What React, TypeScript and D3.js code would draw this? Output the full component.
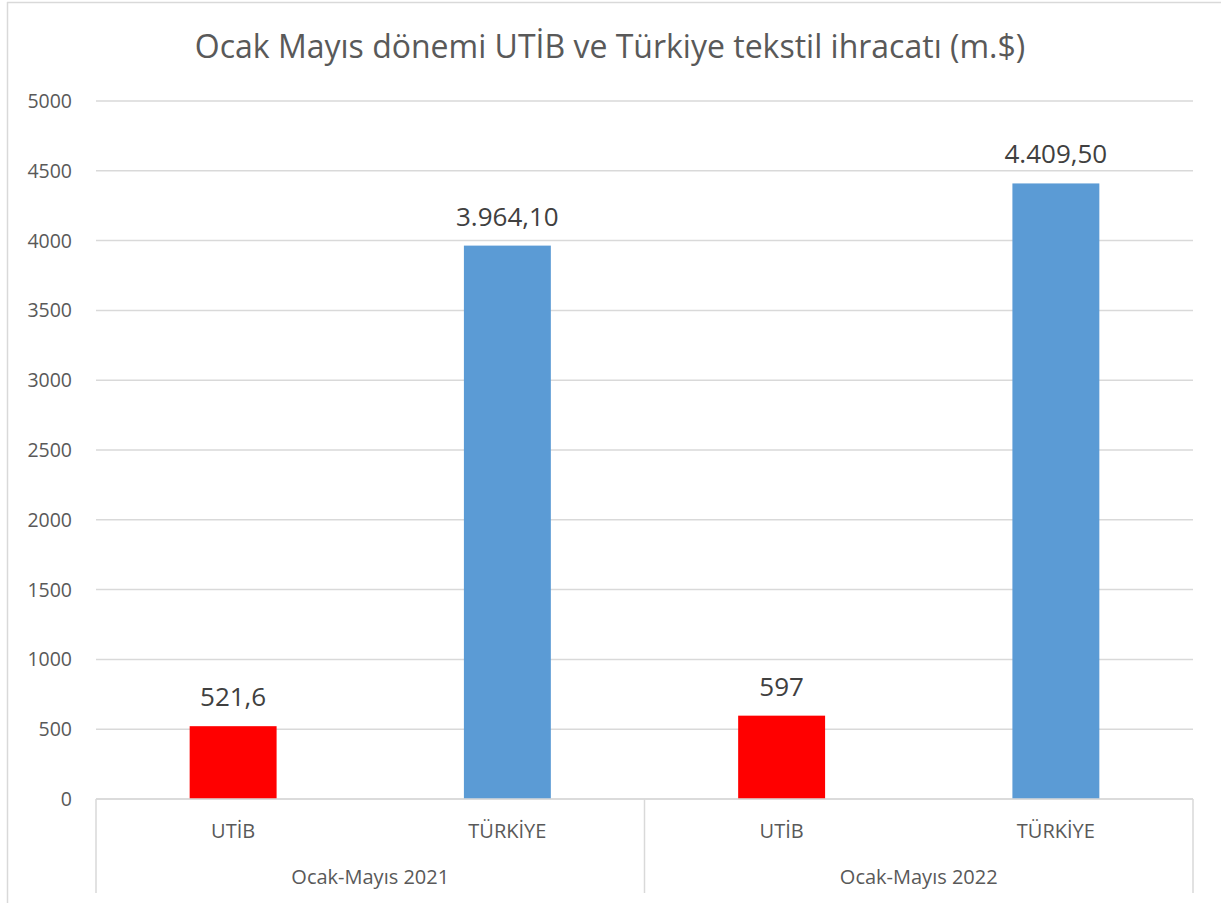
import React from "react";
import * as d3 from "d3";

const title = "Ocak Mayıs dönemi UTİB ve Türkiye tekstil ihracatı (m.$)";
const periods = ["Ocak-Mayıs 2021", "Ocak-Mayıs 2022"];
const regions = ["UTİB", "TÜRKİYE"];
const values2021 = [521.6, 3964.1];
const values2022 = [597, 4409.5];
const valueLabels2021 = ["521,6", "3.964,10"];
const valueLabels2022 = ["597", "4.409,50"];
const regionColors = ["#FF0000", "#5B9BD5"];
const yTicks = [0, 500, 1000, 1500, 2000, 2500, 3000, 3500, 4000, 4500, 5000];

const W = 1221;
const H = 903;
const left = 96;
const right = 1193;
const top = 101;
const bottom = 799;
const font = "'Open Sans', 'Noto Sans', sans-serif";

export default function App() {
  const seriesByPeriod = [values2021, values2022];
  const labelsByPeriod = [valueLabels2021, valueLabels2022];
  const bars = periods.flatMap((p, pi) =>
    regions.map((r, ri) => ({
      key: `${p}|${r}`,
      period: p,
      region: r,
      ri,
      value: seriesByPeriod[pi][ri],
      label: labelsByPeriod[pi][ri],
    }))
  );

  const x = d3
    .scaleBand<string>()
    .domain(bars.map((b) => b.key))
    .range([left, right])
    .paddingInner(0.683)
    .paddingOuter(0.3415);
  const xGroup = d3.scaleBand<string>().domain(periods).range([left, right]).padding(0);
  const y = d3.scaleLinear().domain([0, 5000]).range([bottom, top]);

  return (
    <svg
      width={W}
      height={H}
      style={{ position: "absolute", left: 0, top: 0, background: "#fff" }}
      fontFamily={font}
    >
      <rect x={0} y={0} width={W} height={H} fill="#fff" />
      {/* outer chart border */}
      <line x1={7.5} x2={7.5} y1={2} y2={H} stroke="#D9D9D9" strokeWidth={1.5} />
      <line x1={7} x2={W} y1={2.5} y2={2.5} stroke="#D9D9D9" strokeWidth={1.5} />

      <text x={610} y={58} textAnchor="middle" fontSize={32} fill="#595959">
        {title}
      </text>

      {yTicks.map((t) => (
        <g key={t}>
          <line x1={left} x2={right} y1={y(t)} y2={y(t)} stroke="#D9D9D9" strokeWidth={1.5} />
          <text x={72} y={y(t) + 7} textAnchor="end" fontSize={19.5} fill="#595959">
            {t}
          </text>
        </g>
      ))}

      {bars.map((b) => (
        <g key={b.key}>
          <rect
            x={x(b.key)}
            y={y(b.value)}
            width={x.bandwidth()}
            height={y(0) - y(b.value)}
            fill={regionColors[b.ri]}
          />
          <text
            x={(x(b.key) as number) + x.bandwidth() / 2}
            y={y(b.value) - 20}
            textAnchor="middle"
            fontSize={26}
            fill="#404040"
          >
            {b.label}
          </text>
          <text
            x={(x(b.key) as number) + x.bandwidth() / 2}
            y={838}
            textAnchor="middle"
            fontSize={20}
            fill="#595959"
          >
            {b.region}
          </text>
        </g>
      ))}

      {/* category axis */}
      <line x1={left} x2={right} y1={bottom} y2={bottom} stroke="#D9D9D9" strokeWidth={1.5} />
      {[left, ...periods.map((p) => (xGroup(p) as number) + xGroup.bandwidth())].map((xx, i) => (
        <line key={i} x1={xx} x2={xx} y1={bottom} y2={893} stroke="#D9D9D9" strokeWidth={1.5} />
      ))}
      {periods.map((p) => (
        <text
          key={p}
          x={(xGroup(p) as number) + xGroup.bandwidth() / 2}
          y={884}
          textAnchor="middle"
          fontSize={20}
          fill="#595959"
        >
          {p}
        </text>
      ))}
    </svg>
  );
}
